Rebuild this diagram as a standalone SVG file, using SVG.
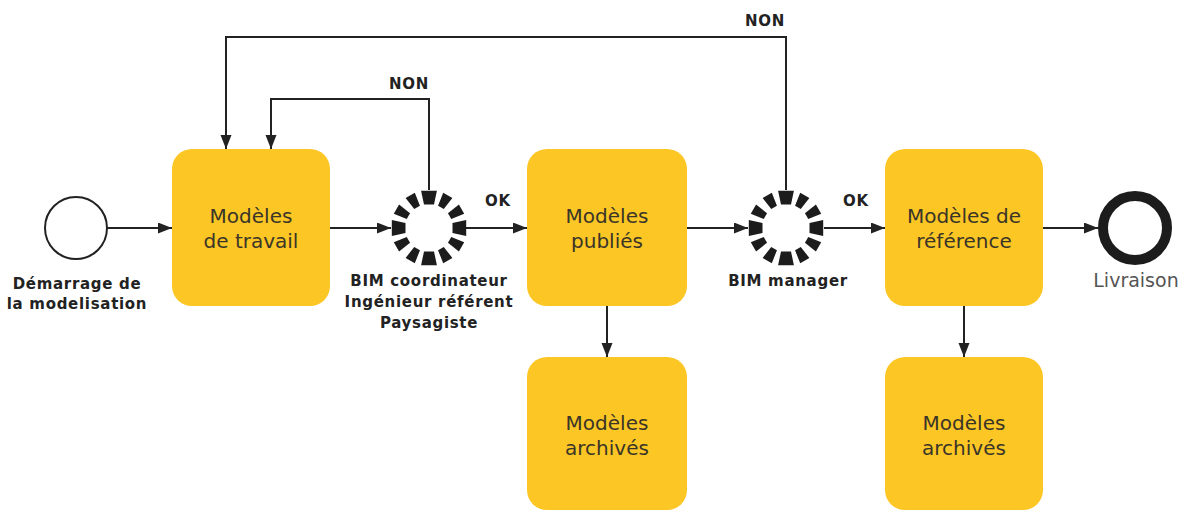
<svg xmlns="http://www.w3.org/2000/svg" xmlns:xlink="http://www.w3.org/1999/xlink" width="1185" height="513" viewBox="0 0 1185 513">
  <style>
    .box { fill: #FCC624; }
    .box-label { font-family: "DejaVu Sans", "Liberation Sans", sans-serif; font-size: 20px; fill: #3a3528; text-anchor: middle; }
    .tag { font-family: "DejaVu Sans", "Liberation Sans", sans-serif; font-size: 15px; font-weight: bold; fill: #222; text-anchor: middle; letter-spacing: 0.7px; }
    .edge { fill: none; stroke: #222; stroke-width: 2; marker-end: url(#arrow); }
    .seg { fill: #1c1c1c; }
  </style>
  <defs>
    <marker id="arrow" markerUnits="userSpaceOnUse" markerWidth="15" markerHeight="12" refX="14" refY="5.5" orient="auto">
      <path d="M0,0 L14,5.5 L0,11 Z" fill="#222"/>
    </marker>
    <!-- gateway ring: larger cardinal blocks, smaller diagonal blocks -->
    <path id="segA" d="M23.5,-5 L37.2,-7.9 L37.2,7.9 L23.5,5 Z"/>
    <path id="segB" d="M23.8,-3.3 L37.6,-5.3 L37.6,5.3 L23.8,3.3 Z"/>
    <g id="ring" class="seg">
      <use xlink:href="#segA"/>
      <use xlink:href="#segA" transform="rotate(90)"/>
      <use xlink:href="#segA" transform="rotate(180)"/>
      <use xlink:href="#segA" transform="rotate(270)"/>
      <use xlink:href="#segB" transform="rotate(30)"/>
      <use xlink:href="#segB" transform="rotate(60)"/>
      <use xlink:href="#segB" transform="rotate(120)"/>
      <use xlink:href="#segB" transform="rotate(150)"/>
      <use xlink:href="#segB" transform="rotate(210)"/>
      <use xlink:href="#segB" transform="rotate(240)"/>
      <use xlink:href="#segB" transform="rotate(300)"/>
      <use xlink:href="#segB" transform="rotate(330)"/>
    </g>
  </defs>

  <rect width="1185" height="513" fill="#ffffff"/>

  <!-- connectors -->
  <g id="connectors">
    <path class="edge" d="M107,228 H172"/>
    <path class="edge" d="M330,228 H391"/>
    <path class="edge" d="M466,228 H527"/>
    <path class="edge" d="M687,228 H748"/>
    <path class="edge" d="M824,228 H885"/>
    <path class="edge" d="M1043,228 H1098"/>
    <path class="edge" d="M607,306 V357"/>
    <path class="edge" d="M964,306 V357"/>
    <path class="edge" d="M429,190 V99 H271 V149"/>
    <path class="edge" d="M786,190 V37 H226 V149"/>
    <text class="tag" x="409" y="89">NON</text>
    <text class="tag" x="765" y="26">NON</text>
    <text class="tag" x="498" y="206">OK</text>
    <text class="tag" x="856" y="206">OK</text>
  </g>

  <!-- start event -->
  <g id="start">
    <circle cx="76" cy="228" r="31" fill="#fff" stroke="#222" stroke-width="2"/>
    <text class="tag" x="77" y="289">Démarrage de</text>
    <text class="tag" x="77" y="309">la modelisation</text>
  </g>

  <g id="travail">
    <rect class="box" x="172" y="149" width="158" height="157" rx="20"/>
    <text class="box-label" x="251" y="223">Modèles</text>
    <text class="box-label" x="251" y="248">de travail</text>
  </g>

  <g id="gateway-coord">
    <use xlink:href="#ring" transform="translate(429,228)"/>
    <text class="tag" x="429" y="286">BIM coordinateur</text>
    <text class="tag" x="429" y="307">Ingénieur référent</text>
    <text class="tag" x="429" y="328">Paysagiste</text>
  </g>

  <g id="publies">
    <rect class="box" x="527" y="149" width="160" height="157" rx="20"/>
    <text class="box-label" x="607" y="223">Modèles</text>
    <text class="box-label" x="607" y="248">publiés</text>
  </g>

  <g id="archives-1">
    <rect class="box" x="527" y="357" width="160" height="153" rx="20"/>
    <text class="box-label" x="607" y="430">Modèles</text>
    <text class="box-label" x="607" y="455">archivés</text>
  </g>

  <g id="gateway-manager">
    <use xlink:href="#ring" transform="translate(786,228)"/>
    <text class="tag" x="788" y="286">BIM manager</text>
  </g>

  <g id="reference">
    <rect class="box" x="885" y="149" width="158" height="157" rx="20"/>
    <text class="box-label" x="964" y="223">Modèles de</text>
    <text class="box-label" x="964" y="248">référence</text>
  </g>

  <g id="archives-2">
    <rect class="box" x="885" y="357" width="158" height="153" rx="20"/>
    <text class="box-label" x="964" y="430">Modèles</text>
    <text class="box-label" x="964" y="455">archivés</text>
  </g>

  <!-- end event -->
  <g id="end">
    <circle cx="1135" cy="228" r="32" fill="#fff" stroke="#1c1c1c" stroke-width="10"/>
    <text x="1136" y="287" font-family="DejaVu Sans, Liberation Sans, sans-serif" font-size="19" fill="#555" text-anchor="middle">Livraison</text>
  </g>
</svg>
